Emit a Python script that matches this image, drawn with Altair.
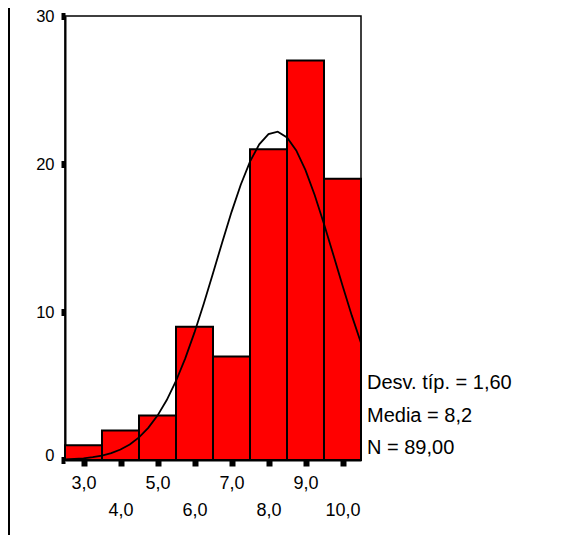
import altair as alt
import pandas as pd

# Histogram bins (centres) and counts
bin_centers = [3.0, 4.0, 5.0, 6.0, 7.0, 8.0, 9.0, 10.0]
counts = [1, 2, 3, 9, 7, 21, 27, 19]

# Normal curve
curve_x = [2.5, 2.75, 3.0, 3.25, 3.5, 3.75, 4.0, 4.25, 4.5, 4.75, 5.0, 5.25, 5.5,
           5.75, 6.0, 6.25, 6.5, 6.75, 7.0, 7.25, 7.5, 7.75, 8.0, 8.25, 8.5, 8.75,
           9.0, 9.25, 9.5, 9.75, 10.0, 10.25, 10.5]
curve_y = [0.04, 0.07, 0.11, 0.19, 0.30, 0.46, 0.71, 1.05, 1.53, 2.17, 3.00, 4.05,
           5.34, 6.87, 8.62, 10.56, 12.62, 14.72, 16.75, 18.60, 20.16, 21.33, 22.02,
           22.18, 21.80, 20.92, 19.58, 17.89, 15.95, 13.88, 11.79, 9.77, 7.90]

stats_lines = ["Desv. típ. = 1,60", "Media = 8,2", "N = 89,00"]
y_ticks = [0, 10, 20, 30]

bars_df = pd.DataFrame({"center": bin_centers, "count": counts})
curve_df = pd.DataFrame({"x": curve_x, "y": curve_y})

FONT = "Liberation Sans"

x_scale = alt.Scale(domain=[2.5, 10.5], nice=False, zero=False)
y_scale = alt.Scale(domain=[0, 30], nice=False)

lab = "replace(format(datum.value, '.1f'), '.', ',')"

x_axis = alt.Axis(
    values=bin_centers, title=None, grid=False,
    domainColor="black", domainWidth=2,
    tickColor="black", tickSize=6, tickWidth=6,
    labelExpr=f"(datum.value % 2 == 1) ? {lab} : ['', {lab}]",
    labelFont=FONT, labelFontSize=18, labelColor="black",
    labelPadding=8, labelLineHeight=27,
    labelOverlap=False, labelFlush=False, labelBound=False,
)
y_axis = alt.Axis(
    values=y_ticks, title=None, grid=False,
    domainColor="black", domainWidth=2,
    tickColor="black", tickSize=4, tickWidth=7,
    labelFont=FONT, labelFontSize=16.5, labelColor="black",
    labelPadding=7, labelOverlap=False, labelFlush=False,
    labelBaseline={"condition": {"test": "datum.value == 0", "value": "alphabetic"},
                   "value": "middle"},
)

bars = alt.Chart(bars_df).transform_calculate(
    x0="datum.center - 0.5", x1="datum.center + 0.5"
).mark_rect(fill="#FF0000", stroke="black", strokeWidth=2).encode(
    x=alt.X("x0:Q", scale=x_scale, axis=x_axis),
    x2="x1:Q",
    y=alt.Y("count:Q", scale=y_scale, axis=y_axis),
    y2=alt.datum(0),
)

curve = alt.Chart(curve_df).mark_line(color="black", strokeWidth=1.8).encode(
    x=alt.X("x:Q", scale=x_scale),
    y=alt.Y("y:Q", scale=y_scale),
)

stats = alt.Chart(pd.DataFrame({"t": [stats_lines]})).mark_text(
    font=FONT, fontSize=20, color="black", align="left", baseline="top",
    lineHeight=32.5,
).encode(
    x=alt.value(302), y=alt.value(357), text="t",
)

border = alt.Chart(pd.DataFrame({"a": [0]})).mark_rule(color="black", strokeWidth=2).encode(
    x=alt.value(-56), y=alt.value(-8), y2=alt.value(519),
)

chart = alt.layer(bars, curve, stats, border).properties(
    width=296, height=444,
    autosize=alt.AutoSizeParams(type="none"),
    padding={"left": 57, "top": 8, "right": 200, "bottom": 75},
).configure_view(stroke="black", strokeWidth=1.5)

chart.save("out.html", embed_options={"renderer": "svg", "actions": False})
